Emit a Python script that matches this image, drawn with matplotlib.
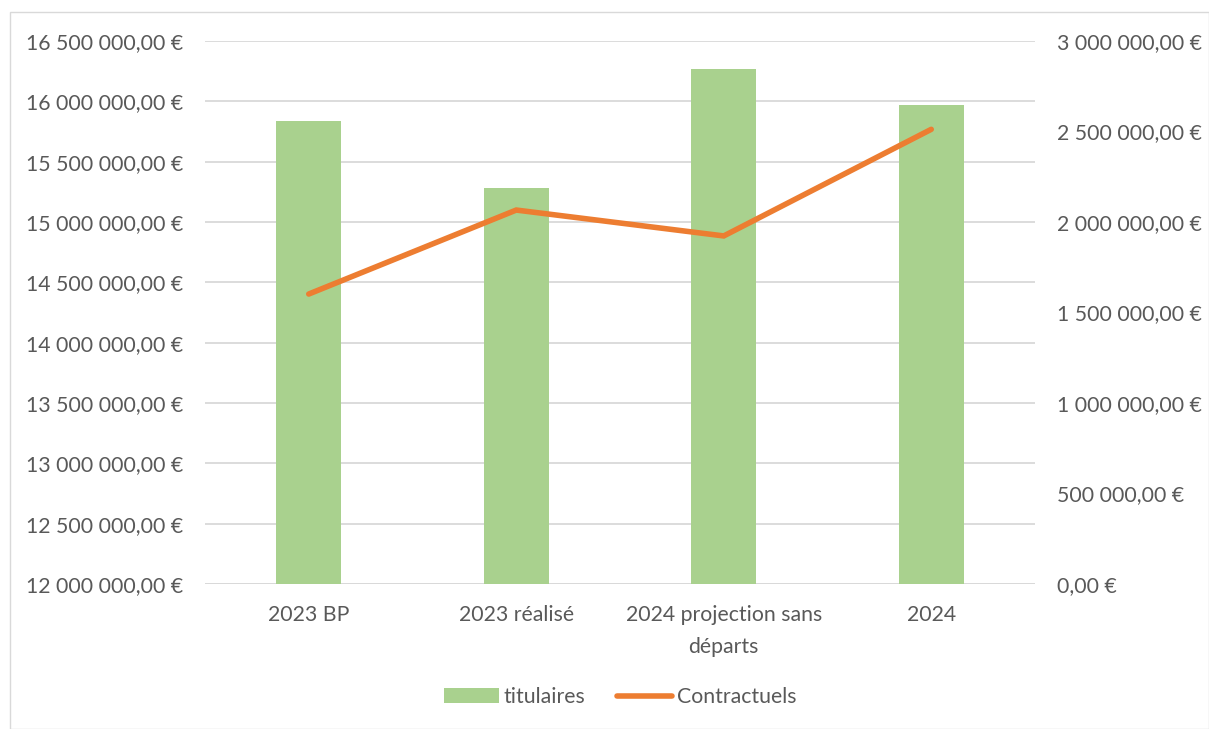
import matplotlib
matplotlib.use("Agg")
import matplotlib.pyplot as plt
from matplotlib.patches import Rectangle
from matplotlib.ticker import FuncFormatter, MultipleLocator

categories = ["2023 BP", "2023 réalisé", "2024 projection sans\ndéparts", "2024"]
titulaires = [15_837_000, 15_280_000, 16_268_000, 15_970_000]
contractuels = [1_602_000, 2_066_000, 1_923_000, 2_512_000]

GREEN = "#A9D18E"
ORANGE = "#ED7D31"
TEXT = "#595959"
GRID = "#D9D9D9"
FS = 15.3

plt.rcParams["font.family"] = ["Lato", "DejaVu Sans"]


def euro(v, _pos=None):
    s = f"{v:,.2f}".replace(",", " ").replace(".", ",")
    return f"{s} €"


fig = plt.figure(figsize=(12.09, 7.29), dpi=100)
ax = fig.add_axes([205 / 1209, 1 - 584 / 729, 830 / 1209, (584 - 41) / 729])
ax2 = ax.twinx()

x = list(range(len(categories)))
ax.bar(x, titulaires, width=0.315, color=GREEN, zorder=2, label="titulaires")
ax.set_xlim(-0.5, len(categories) - 0.5)
ax.set_ylim(12_000_000, 16_500_000)
ax.yaxis.set_major_locator(MultipleLocator(500_000))
ax.yaxis.set_major_formatter(FuncFormatter(euro))
ax.grid(axis="y", color=GRID, linewidth=1.3, zorder=0)
ax.set_axisbelow(True)

ax2.plot(x, contractuels, color=ORANGE, linewidth=4, solid_capstyle="round",
         solid_joinstyle="miter", zorder=3, label="Contractuels")
ax2.set_ylim(0, 3_000_000)
ax2.yaxis.set_major_locator(MultipleLocator(500_000))
ax2.yaxis.set_major_formatter(FuncFormatter(euro))

for a in (ax, ax2):
    for side in ("top", "left", "right", "bottom"):
        a.spines[side].set_visible(False)
    a.tick_params(length=0, colors=TEXT, labelsize=FS)
ax.tick_params(axis="y", pad=15.5)
ax2.tick_params(axis="y", pad=16)
ax.set_xticks(x)
ax.set_xticklabels(categories, color=TEXT, fontsize=FS, linespacing=1.75)
ax.tick_params(axis="x", pad=15)
ax.axhline(12_000_000, color=GRID, linewidth=1.3, zorder=1)

h1, l1 = ax.get_legend_handles_labels()
h2, l2 = ax2.get_legend_handles_labels()
fig.legend(h1 + h2, l1 + l2, loc="center", bbox_to_anchor=(620 / 1209, 1 - 697 / 729),
           ncol=2, frameon=False, fontsize=FS, labelcolor=TEXT,
           handlelength=2.6, handletextpad=0.2, columnspacing=1.5)

fig.patches.append(Rectangle((10 / 1209, 0), 1 - 10 / 1209, 1 - 12 / 729,
                             transform=fig.transFigure, fill=False,
                             edgecolor=GRID, linewidth=1))

fig.savefig("out.png", dpi=100)
